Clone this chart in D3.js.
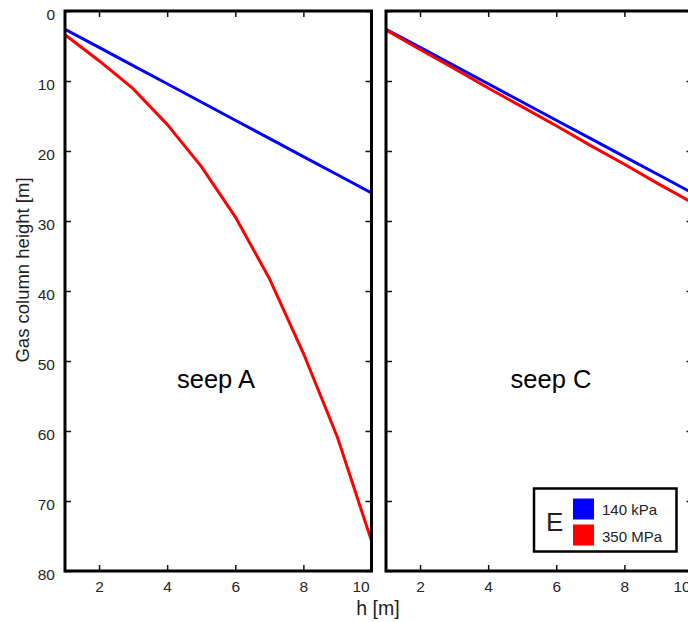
<!DOCTYPE html>
<html>
<head>
<meta charset="utf-8">
<script src="https://cdn.jsdelivr.net/npm/d3@7"></script>
<style>
  html, body { margin: 0; padding: 0; background: #fff; }
  svg { display: block; font-family: "Liberation Sans", Arial, sans-serif; }
</style>
</head>
<body>
<svg id="chart" width="688" height="622"></svg>
<script>
// ---------- data ----------
const hValues = [1, 2, 3, 4, 5, 6, 7, 8, 9, 10];
const seepA_140kPa = [2.6, 5.2, 7.8, 10.4, 13.0, 15.6, 18.2, 20.8, 23.4, 26.0];
const seepA_350MPa = [3.4, 7.1, 11.1, 16.2, 22.2, 29.4, 38.2, 48.9, 60.9, 75.7];
const seepC_140kPa = [2.6, 5.2, 7.8, 10.4, 13.0, 15.6, 18.2, 20.8, 23.4, 26.0];
const seepC_350MPa = [2.7, 5.5, 8.2, 11.0, 13.7, 16.4, 19.2, 21.9, 24.7, 27.4];
const xTicks = [2, 4, 6, 8, 10];
const yTicks = [0, 10, 20, 30, 40, 50, 60, 70, 80];
const panelNames = ["seep A", "seep C"];
const legendLabels = ["140 kPa", "350 MPa"];
const seriesColors = ["#0000ff", "#ff0000"];
const legendLetter = "E";

// ---------- layout ----------
const svg = d3.select("#chart");
const plotTop = 11, plotBottom = 571;
const panels = [
  { x0: 65, x1: 371.5, labelX: 216, name: panelNames[0], series: [seepA_140kPa, seepA_350MPa], yLabels: true },
  { x0: 386, x1: 692.5, labelX: 551, name: panelNames[1], series: [seepC_140kPa, seepC_350MPa], yLabels: false }
];
const y = d3.scaleLinear().domain([0, 80]).range([plotTop, plotBottom]);
const textColor = "#262626";

panels.forEach((p, i) => {
  const x = d3.scaleLinear().domain([1, 10]).range([p.x0, p.x1]);
  const g = svg.append("g");
  const clipId = "clip" + i;
  svg.append("defs").append("clipPath").attr("id", clipId)
    .append("rect").attr("x", p.x0).attr("y", plotTop).attr("width", p.x1 - p.x0).attr("height", plotBottom - plotTop);

  // lines
  const line = d3.line().x((d, k) => x(hValues[k])).y(d => y(d));
  p.series.forEach((s, k) => {
    g.append("path").datum(s)
      .attr("clip-path", `url(#${clipId})`)
      .attr("d", line)
      .attr("fill", "none")
      .attr("stroke", seriesColors[k])
      .attr("stroke-width", 3)
      .attr("stroke-linejoin", "round");
  });

  // axes (inward ticks)
  const bottomAxis = d3.axisBottom(x).tickValues(xTicks).tickSizeInner(-6).tickSizeOuter(0).tickPadding(10);
  const gb = g.append("g").attr("transform", `translate(0,${plotBottom})`).call(bottomAxis);
  const topAxis = d3.axisTop(x).tickValues(xTicks).tickSizeInner(-6).tickSizeOuter(0).tickFormat("");
  const gt = g.append("g").attr("transform", `translate(0,${plotTop})`).call(topAxis);
  const leftAxis = d3.axisLeft(y).tickValues(yTicks).tickSizeInner(-6).tickSizeOuter(0).tickPadding(10);
  if (!p.yLabels) leftAxis.tickFormat("");
  const gl = g.append("g").attr("transform", `translate(${p.x0},0)`).call(leftAxis);
  const rightAxis = d3.axisRight(y).tickValues(yTicks).tickSizeInner(-6).tickSizeOuter(0).tickFormat("");
  const gr = g.append("g").attr("transform", `translate(${p.x1},0)`).call(rightAxis);

  [gb, gt, gl, gr].forEach(a => {
    a.select(".domain").remove();
    a.selectAll(".tick line").attr("stroke", "#111").attr("stroke-width", 1.5);
    a.selectAll(".tick text").attr("fill", textColor).attr("font-size", 15.5)
      .attr("font-family", "Liberation Sans, Arial, sans-serif");
  });
  gb.selectAll(".tick text").filter(d => d === 10).attr("dx", -11);
  gl.selectAll(".tick text").attr("dy", "0.57em");

  // frame
  g.append("rect")
    .attr("x", p.x0).attr("y", plotTop)
    .attr("width", p.x1 - p.x0).attr("height", plotBottom - plotTop)
    .attr("fill", "none").attr("stroke", "#000").attr("stroke-width", 3);

  // panel name
  g.append("text")
    .attr("x", p.labelX)
    .attr("y", 388)
    .attr("text-anchor", "middle")
    .attr("font-size", 25.5)
    .attr("fill", "#000")
    .text(p.name);

  // legend in second panel
  if (i === 1) {
    const lg = g.append("g");
    lg.append("rect").attr("x", 534).attr("y", 488.5).attr("width", 142.5).attr("height", 63)
      .attr("fill", "#fff").attr("stroke", "#000").attr("stroke-width", 2.5);
    lg.append("text").attr("x", 546).attr("y", 530.5).attr("font-size", 26).attr("fill", "#222").text(legendLetter);
    legendLabels.forEach((lab, k) => {
      lg.append("rect").attr("x", 573).attr("y", 498.5 + k * 26).attr("width", 21).attr("height", 21)
        .attr("fill", seriesColors[k]);
      lg.append("text").attr("x", 602).attr("y", 514.5 + k * 27).attr("font-size", 15)
        .attr("fill", "#222").text(lab);
    });
  }
});

// axis titles
svg.append("text")
  .attr("transform", `translate(29,270) rotate(-90)`)
  .attr("text-anchor", "middle")
  .attr("font-size", 18.5)
  .attr("fill", "#222")
  .text("Gas column height [m]");
svg.append("text")
  .attr("x", 378).attr("y", 615)
  .attr("text-anchor", "middle")
  .attr("font-size", 19.5)
  .attr("fill", "#222")
  .text("h [m]");
</script>
</body>
</html>
